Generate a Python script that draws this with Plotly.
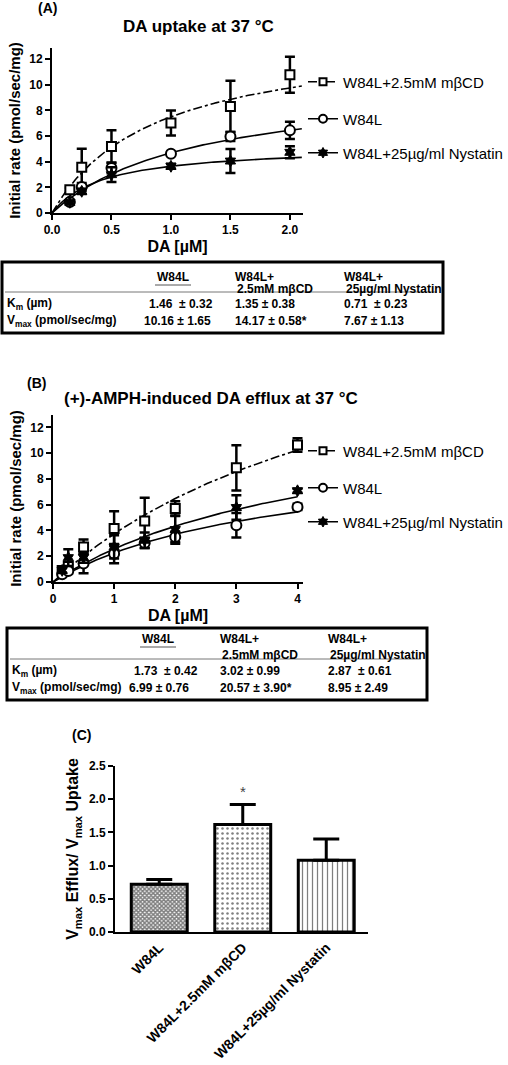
import numpy as np
import plotly.graph_objects as go

W, H = 508, 1065
FONT = "Liberation Sans, Arial, sans-serif"

# ---------------- data ----------------
series_names = ["W84L+2.5mM m\u03b2CD", "W84L", "W84L+25\u00b5g/ml Nystatin"]

conc_A = [0.15, 0.25, 0.5, 1.0, 1.5, 2.0]
mbcd_A = [1.82, 3.56, 5.19, 7.01, 8.31, 10.78]
mbcd_A_err = [0.15, 1.45, 1.25, 0.97, 2.0, 1.4]
w84l_A = [0.85, 2.03, 3.5, 4.62, 5.97, 6.44]
w84l_A_err = [0.1, 0.3, 0.4, 0.15, 0.35, 0.67]
nys_A = [0.83, 1.69, 2.99, 3.64, 4.05, 4.73]
nys_A_err = [0.1, 0.2, 0.57, 0.2, 0.93, 0.47]
# Michaelis-Menten fit parameters (Km, Vmax) of the drawn curves
fit_A = {"mbcd": (0.857, 13.93), "w84l": (1.19, 10.28), "nys": (0.433, 5.23)}

conc_B = [0.15, 0.25, 0.5, 1.0, 1.5, 2.0, 3.0, 4.0]
mbcd_B = [0.9, 1.2, 2.72, 4.15, 4.74, 5.7, 8.86, 10.63]
mbcd_B_err = [0.2, 0.3, 0.57, 1.35, 1.8, 0.57, 1.75, 0.52]
w84l_B = [0.6, 0.85, 1.43, 2.2, 3.03, 3.5, 4.41, 5.83]
w84l_B_err = [0.15, 0.2, 0.75, 0.75, 0.4, 0.4, 0.95, 0.25]
nys_B = [0.9, 1.89, 1.9, 2.72, 3.24, 4.07, 5.78, 7.08]
nys_B_err = [0.2, 0.65, 0.4, 0.9, 0.6, 1.1, 0.95, 0.15]
fit_B = {"mbcd": (5.5, 24.3), "w84l": (3.55, 10.27), "nys": (4.46, 14.0)}

bar_cats = ["W84L", "W84L+2.5mM m\u03b2CD", "W84L+25\u00b5g/ml Nystatin"]
bar_vals = [0.72, 1.62, 1.08]
bar_errs = [0.07, 0.30, 0.32]

table_cols = ["W84L", "W84L+<br>2.5mM m\u03b2CD", "W84L+<br>25\u00b5g/ml Nystatin"]
table_A_km = ["1.46  \u00b1 0.32", "1.35 \u00b1 0.38", "0.71  \u00b1 0.23"]
table_A_vmax = ["10.16 \u00b1 1.65", "14.17 \u00b1 0.58*", "7.67 \u00b1 1.13"]
table_B_km = ["1.73  \u00b1 0.42", "3.02 \u00b1 0.99", "2.87  \u00b1 0.61"]
table_B_vmax = ["6.99 \u00b1 0.76", "20.57 \u00b1 3.90*", "8.95 \u00b1 2.49"]

# ---------------- helpers ----------------
def px(x):
    return x / W

def py(y):
    return 1 - y / H

styles = {
    "mbcd": dict(symbol="square", size=9, color="white", line=dict(color="black", width=2)),
    "w84l": dict(symbol="circle", size=10, color="white", line=dict(color="black", width=2)),
    "nys": dict(symbol="hexagram", size=9, color="black", line=dict(color="black", width=1)),
}
leg_styles = {
    "mbcd": dict(symbol="square", size=7, color="white", line=dict(color="black", width=2)),
    "w84l": dict(symbol="circle", size=8, color="white", line=dict(color="black", width=2)),
    "nys": dict(symbol="hexagram", size=8, color="black", line=dict(color="black", width=1)),
}
dashes = {"mbcd": "dashdot", "w84l": "solid", "nys": "solid"}
keys = ["mbcd", "w84l", "nys"]

fig = go.Figure()

def add_panel(conc, vals, errs, fits, xmax_curve, xa, ya, legends):
    for k in keys:
        km, vm = fits[k]
        xs = np.linspace(0, xmax_curve, 120)
        fig.add_trace(go.Scatter(x=xs, y=vm * xs / (km + xs), mode="lines",
                                 line=dict(color="black", width=1.6, dash=dashes[k]),
                                 xaxis=xa, yaxis=ya, showlegend=False, hoverinfo="skip"))
    for k in keys:
        fig.add_trace(go.Scatter(x=conc, y=vals[k], mode="markers", marker=styles[k],
                                 error_y=dict(type="data", array=errs[k], color="black",
                                              thickness=2.5, width=5),
                                 xaxis=xa, yaxis=ya, showlegend=False, cliponaxis=False))
    for i, k in enumerate(keys):
        fig.add_trace(go.Scatter(x=[None], y=[None], mode="lines+markers", marker=leg_styles[k],
                                 line=dict(color="black", width=1.6, dash=dashes[k]),
                                 name=series_names[i], legend=legends[i], showlegend=True,
                                 xaxis=xa, yaxis=ya))

add_panel(conc_A, {"mbcd": mbcd_A, "w84l": w84l_A, "nys": nys_A},
          {"mbcd": mbcd_A_err, "w84l": w84l_A_err, "nys": nys_A_err}, fit_A, 2.1, "x", "y",
          ["legend", "legend2", "legend3"])
add_panel(conc_B, {"mbcd": mbcd_B, "w84l": w84l_B, "nys": nys_B},
          {"mbcd": mbcd_B_err, "w84l": w84l_B_err, "nys": nys_B_err}, fit_B, 4.0, "x2", "y2",
          ["legend4", "legend5", "legend6"])

# Panel C bars
fig.add_trace(go.Bar(
    x=[0, 1, 2], y=bar_vals, width=0.67,
    marker=dict(color="white", line=dict(color="black", width=3),
                pattern=dict(shape=["x", ".", "|"], fgcolor="black", bgcolor="white",
                             size=[3, 5, 5], solidity=[0.75, 0.2, 0.25])),
    error_y=dict(type="data", array=bar_errs, arrayminus=[0, 0, 0], symmetric=False,
                 color="black", thickness=3, width=13),
    xaxis="x3", yaxis="y3", showlegend=False))

axis_common = dict(showline=True, linecolor="black", linewidth=2, ticks="outside",
                   ticklen=5, tickwidth=2, tickcolor="black", showgrid=False, zeroline=False,
                   tickfont=dict(family=FONT, size=12, color="black", weight="bold"),
                   mirror=False, automargin=False)

title_font = dict(family=FONT, size=15, color="black", weight="bold")
xt_font = dict(family=FONT, size=16, color="black", weight="bold")

leg_common = dict(xanchor="left", yanchor="middle", font=dict(family=FONT, size=15, color="black"),
                  bgcolor="rgba(0,0,0,0)", borderwidth=0)
leg_y = [82, 119, 153, 451, 488, 522]
legend_layout = {}
for i, yy in enumerate(leg_y):
    name = "legend" if i == 0 else "legend%d" % (i + 1)
    legend_layout[name] = dict(leg_common, x=px(303), y=py(yy))

fig.update_layout(
    width=W, height=H, margin=dict(l=0, r=0, t=0, b=0, autoexpand=False),
    paper_bgcolor="white", plot_bgcolor="white",
    font=dict(family=FONT, color="black"),
    xaxis=dict(axis_common, domain=[px(52), px(303)], range=[0, 2.11],
               tickvals=[0, 0.5, 1, 1.5, 2], ticktext=["0.0", "0.5", "1.0", "1.5", "2.0"],
               anchor="y", title=dict(text="DA [\u00b5M]", font=xt_font, standoff=4)),
    yaxis=dict(axis_common, domain=[py(213), py(48)], range=[0, 12.86],
               tickvals=[0, 2, 4, 6, 8, 10, 12], anchor="x",
               title=dict(text="Initial rate (pmol/sec/mg)", font=title_font, standoff=5)),
    xaxis2=dict(axis_common, domain=[px(53), px(303)], range=[0, 4.09],
                tickvals=[0, 1, 2, 3, 4], anchor="y2",
                title=dict(text="DA [\u00b5M]", font=xt_font, standoff=4)),
    yaxis2=dict(axis_common, domain=[py(582), py(415)], range=[0, 12.96],
                tickvals=[0, 2, 4, 6, 8, 10, 12], anchor="x2",
                title=dict(text="Initial rate (pmol/sec/mg)", font=title_font, standoff=5)),
    xaxis3=dict(axis_common, domain=[px(115), px(368)], range=[-0.53, 2.5],
                tickvals=[0, 1, 2], ticktext=bar_cats, tickangle=-45, ticks="", anchor="y3",
                tickfont=dict(family=FONT, size=14, color="black", weight="bold")),
    yaxis3=dict(axis_common, domain=[py(932), py(766)], range=[0, 2.5],
                tickvals=[0, 0.5, 1, 1.5, 2, 2.5], tickformat=".1f", anchor="x3",
                title=dict(text="V<sub>max</sub> Efflux/ V<sub>max</sub> Uptake",
                           font=dict(family=FONT, size=16, color="black", weight="bold"),
                           standoff=6)),
    **legend_layout,
)

ann = []
def text(x, y, t, size=12, bold=True, xanchor="left", color="black"):
    ann.append(dict(x=px(x), y=py(y), xref="paper", yref="paper", text=t, showarrow=False,
                    xanchor=xanchor, yanchor="middle",
                    font=dict(family=FONT, size=size, color=color,
                              weight="bold" if bold else "normal")))

text(36, 8, "(A)", 14)
text(198, 27, "DA uptake at 37 \u00b0C", 17, xanchor="center")
text(25, 383, "(B)", 14)
text(211, 398, "(+)-AMPH-induced DA efflux at 37 \u00b0C", 17, xanchor="center")
text(70, 735, "(C)", 14)
ann.append(dict(x=1, y=2.12, xref="x3", yref="y3", text="*", showarrow=False,
                font=dict(family=FONT, size=15, color="#444")))

shapes = []
def table(x0, x1, y0, y1, yline, col_x, hy1, hy2, ykm, yvm, km, vm):
    shapes.append(dict(type="rect", xref="paper", yref="paper", x0=px(x0), x1=px(x1),
                       y0=py(y1), y1=py(y0), line=dict(color="black", width=3)))
    shapes.append(dict(type="line", xref="paper", yref="paper", x0=px(x0 + 3), x1=px(x1 - 6),
                       y0=py(yline), y1=py(yline), line=dict(color="#777", width=1)))
    heads = [c.split("<br>") for c in table_cols]
    text(col_x[0] + 8, hy1, heads[0][0])
    shapes.append(dict(type="line", xref="paper", yref="paper", x0=px(col_x[0] + 8),
                       x1=px(col_x[0] + 44), y0=py(hy1 + 8), y1=py(hy1 + 8),
                       line=dict(color="#555", width=1)))
    for i in (1, 2):
        text(col_x[i], hy1, heads[i][0])
        text(col_x[i] + 2, hy2, heads[i][1])
    text(x0 + 3, ykm, "K<sub>m</sub> (\u00b5m)")
    text(x0 + 3, yvm, "V<sub>max</sub> (pmol/sec/mg)")
    for i in range(3):
        text(col_x[i], ykm, km[i])
        text(col_x[i] - (5 if i == 0 else 0), yvm, vm[i])

table(2, 443, 262, 333, 292, [147, 233, 342], 277, 289, 304, 321, table_A_km, table_A_vmax)
table(7, 427, 628, 700, 659, [132, 218, 326], 639, 655, 671, 688, table_B_km, table_B_vmax)

fig.update_layout(annotations=ann, shapes=shapes)
fig.write_html("out.html", config={"displayModeBar": False},
               post_script="document.body.style.margin='0';document.body.style.padding='0';")
